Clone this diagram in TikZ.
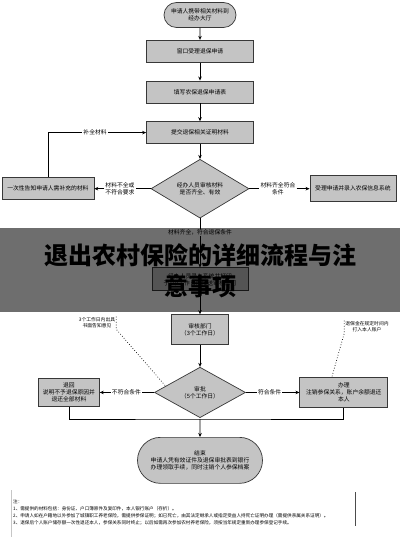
\documentclass[tikz,border=0pt]{standalone}
\usepackage{fontspec}
\setmainfont{Noto Sans CJK SC}
\usetikzlibrary{arrows.meta,positioning,shapes.geometric,shapes.misc,calc}
\definecolor{boxgray}{HTML}{C4C4C4}
\definecolor{edgegray}{HTML}{383838}
\newcommand{\boxfont}{\fontsize{5.8}{7}\selectfont}
\newcommand{\memofont}{\fontsize{4.8}{6}\selectfont}

\begin{document}
\begin{tikzpicture}[x=1pt, y=-1pt,
  font=\boxfont,
  proc/.style={draw=edgegray, fill=boxgray, line width=0.7pt, align=center, inner sep=1pt},
  endpt/.style={rounded rectangle, draw=edgegray, fill=boxgray, line width=0.7pt,
                align=center, inner sep=1pt},
  decide/.style={diamond, draw=edgegray, fill=boxgray, line width=0.7pt,
                 align=center, inner sep=0pt},
  arrow/.style={-{Stealth[length=4pt,width=3.5pt]}, line width=0.7pt},
  link/.style={line width=0.7pt},
  flow/.style={align=center, inner sep=1pt},
  memo/.style={font=\memofont, align=center, inner sep=1pt},
  dots/.style={dotted, line width=0.7pt}]
\useasboundingbox (0,0) rectangle (400,540);
\fill[white] (0,0) rectangle (400,540);
% main column
\node[endpt, minimum width=74pt, minimum height=25pt] (start) at (200,15)
  {申请人携带相关材料到\\经办大厅};
\node[proc, minimum width=107pt, minimum height=22pt, below=12pt of start] (recv) {窗口受理退保申请};
\node[proc, minimum width=107pt, minimum height=22pt, below=18pt of recv] (fill) {填写农保退保申请表};
\node[proc, minimum width=107pt, minimum height=22pt, below=18pt of fill] (resub) {提交退保相关证明材料};
\node[decide, minimum width=98pt, minimum height=51pt, below=15pt of resub] (dia1)
  {经办人员审核材料\\是否齐全、有效};
% first decision, both sides
\node[flow, left=15pt of dia1] (lack) {材料不全或\\不符合要求};
\node[proc, minimum width=92pt, minimum height=22pt, left=10pt of lack] (back)
  {一次性告知申请人需补充的材料};
\node[flow, right=10pt of dia1] (okay) {材料齐全符合\\条件};
\node[proc, minimum width=86pt, minimum height=26pt, right=13pt of okay] (accept)
  {受理申请并录入农保信息系统};
\draw[link]  (dia1.west) -- (lack.east);
\draw[arrow] (lack.west) -- (back.east);
\draw[link]  (dia1.east) -- (okay.west);
\draw[arrow] (okay.east) -- (accept.west);
\draw[arrow] (back.north) |- node[flow, fill=white, pos=0.74] {补全材料} (resub.west);
\draw[arrow] (start) -- (recv);
\draw[arrow] (recv) -- (fill);
\draw[arrow] (fill) -- (resub);
\draw[arrow] (resub) -- (dia1);
% review and approval
\node[proc, minimum width=96pt, minimum height=23pt, below=49pt of dia1] (review)
  {经办人员录入系统并打印\\于1个工作日内报送审核部门};
\node[proc, minimum width=57pt, minimum height=30pt, below=23pt of review] (audit)
  {审核部门\\（3个工作日）};
\node[decide, minimum width=91pt, minimum height=33pt, below=22pt of audit] (dia2)
  {审批\\（5个工作日）};
\draw[arrow] (dia1) -- node[flow, fill=white, pos=0.29] {材料齐全，符合退保条件} (review);
\draw[arrow] (review) -- (audit);
\draw[arrow] (audit) -- (dia2);
\node[flow, left=12pt of dia2] (fail) {不符合条件};
\node[proc, minimum width=61pt, minimum height=28pt, left=11pt of fail] (refuse)
  {退回\\说明不予退保原因并\\退还全部材料};
\node[flow, right=11pt of dia2] (pass) {符合条件};
\node[proc, minimum width=88pt, minimum height=30pt, right=17pt of pass] (pay)
  {办理\\注销参保关系，账户余额退还\\本人};
\draw[link]  (dia2.west) -- (fail.east);
\draw[arrow] (fail.west) -- (refuse.east);
\draw[link]  (dia2.east) -- (pass.west);
\draw[arrow] (pass.east) -- (pay.west);
% dotted remarks
\node[memo] (memo1) at (97,323) {3个工作日内出具\\书面告知意见};
\node[memo] (memo2) at (367,327) {退保金在规定时间内\\打入本人账户};
\draw[dots] (memo1.north east) -- (memo1.south east) -- ($(dia2.west)!0.25!(dia2.north)$);
\draw[dots] (memo2.north west) -- (memo2.south west) -- ($(pay.north west)!0.73!(pay.north)$);
% end
\coordinate (join) at (200,419);
\node[endpt, minimum width=127pt, minimum height=46pt, below=18pt of join] (finish)
  {结束\\申请人凭有效证件及退保审批表到银行\\办理领取手续，同时注销个人参保档案};
\draw[link]  (refuse.south) |- (join) -| (pay.south);
\draw[arrow] (join) -- (finish);
% notes
\node[anchor=north west, font=\fontsize{4.6}{7.2}\selectfont, align=left, inner sep=0pt] (notes) at (13,499)
  {注：\\
   1、需提供的材料包括：身份证、户口簿原件及复印件，本人银行账户（存折）。\\
   2、申请人如在户籍地以外参加了城镇职工养老保险，需提供参保证明；如已死亡，由其法定继承人或指定受益人持死亡证明办理（需提供亲属关系证明）。\\
   3、退保后个人账户储存额一次性退还本人，参保关系同时终止；以后如需再次参加农村养老保险，须按当年规定重新办理参保登记手续。};
\draw[gray!45] (11,490) -- (11,537);
\draw[gray!60!black, line width=0.7pt] (355,492) -- (355,526);
% title band
\fill[black, opacity=0.57] (0,228) rectangle (400,312);
\node[font=\fontsize{24}{31}\selectfont\bfseries, align=center] (title) at (200,271)
  {退出农村保险的详细流程与注\\意事项};
\end{tikzpicture}
\end{document}
